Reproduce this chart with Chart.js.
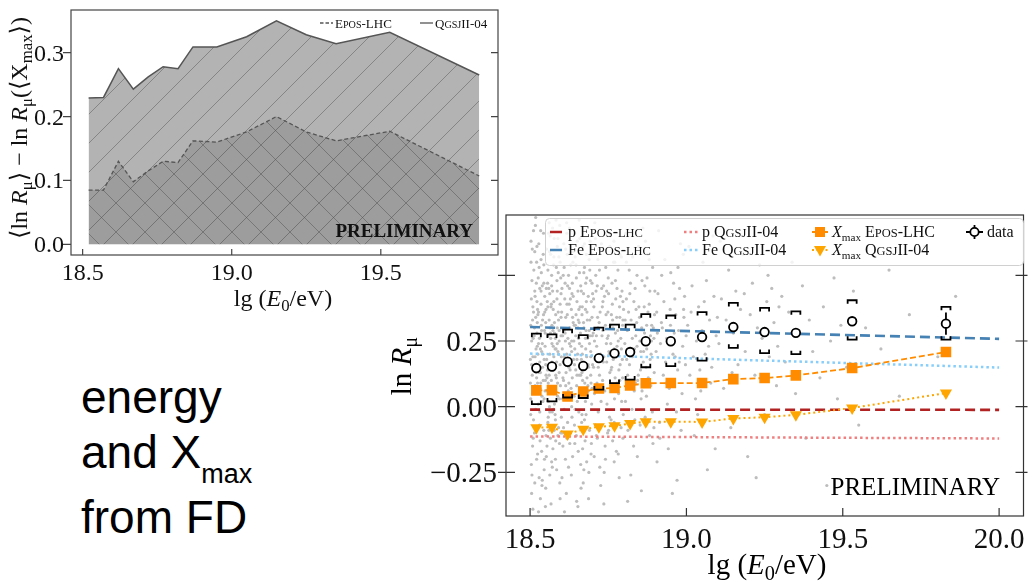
<!DOCTYPE html>
<html>
<head>
<meta charset="utf-8">
<script src="https://cdn.jsdelivr.net/npm/chart.js@4.4.0/dist/chart.umd.min.js"></script>
<style>
html, body { margin: 0; padding: 0; background: #fff; }
body { width: 1031px; height: 588px; position: relative; overflow: hidden; }
#lnrBox { position: absolute; left: 380px; top: 200px; }
#diffBox { position: absolute; left: 0; top: 0; }
.caption { position: absolute; left: 81px; font-family: "Liberation Sans", Arial, sans-serif; font-size: 46px; line-height: 46px; color: #000; white-space: nowrap; }
.caption .sub { font-size: 27px; position: relative; top: 15px; }
</style>
</head>
<body>
<div id="lnrBox"><canvas id="lnrChart" width="651" height="388"></canvas></div>
<div id="diffBox"><canvas id="diffChart" width="505" height="320"></canvas></div>
<div class="caption" style="top:374px">energy</div>
<div class="caption" style="top:429px">and X<span class="sub">max</span></div>
<div class="caption" style="top:494px">from FD</div>
<script>
// energy bins (lg E0/eV)
const binLg = [18.52, 18.57, 18.62, 18.67, 18.72, 18.77, 18.82, 18.87, 18.95, 19.05, 19.15, 19.25, 19.35, 19.53, 19.83];

// mean ln R_mu per bin with statistical and systematic band
const dataLnR = [0.147, 0.153, 0.171, 0.155, 0.185, 0.203, 0.208, 0.249, 0.249, 0.265, 0.303, 0.284, 0.281, 0.325, 0.316];
const statErr = [0.010, 0.010, 0.011, 0.011, 0.012, 0.012, 0.013, 0.013, 0.013, 0.014, 0.015, 0.015, 0.016, 0.016, 0.042];
const sysUp = [0.278, 0.275, 0.293, 0.272, 0.301, 0.312, 0.312, 0.352, 0.347, 0.360, 0.395, 0.376, 0.363, 0.405, 0.380];
const sysLow = [0.010, 0.020, 0.035, 0.033, 0.065, 0.090, 0.103, 0.150, 0.154, 0.175, 0.224, 0.204, 0.200, 0.255, 0.255];

// ln R_mu expected from Xmax
const xmaxEpos = [0.062, 0.063, 0.039, 0.058, 0.069, 0.071, 0.081, 0.089, 0.090, 0.090, 0.105, 0.109, 0.119, 0.147, 0.208];
const xmaxQgsj = [-0.080, -0.078, -0.104, -0.086, -0.076, -0.073, -0.064, -0.057, -0.057, -0.058, -0.045, -0.040, -0.031, -0.005, 0.052];

// proton / iron expectations
const modelLg = [18.5, 20.0];
const pEpos = [-0.011, -0.012];
const feEpos = [0.303, 0.258];
const pQgsj = [-0.113, -0.121];
const feQgsj = [0.202, 0.149];

// muon deficit <ln R_mu> - ln R_mu(<Xmax>)
const diffEpos = [0.085, 0.085, 0.130, 0.098, 0.115, 0.130, 0.128, 0.162, 0.160, 0.176, 0.200, 0.176, 0.162, 0.177, 0.107];
const diffQgsj = [0.229, 0.230, 0.275, 0.243, 0.262, 0.278, 0.275, 0.309, 0.309, 0.325, 0.350, 0.328, 0.314, 0.332, 0.265];

// tick labels
const lnrXTicks = [18.5, 19.0, 19.5, 20.0];
const lnrXLabels = ['18.5', '19.0', '19.5', '20.0'];
const lnrYTicks = [-0.25, 0, 0.25, 0.5];
const lnrYLabels = ['\u22120.25', '0.00', '0.25', ''];
const diffXTicks = [18.5, 19.0, 19.5];
const diffXLabels = ['18.5', '19.0', '19.5'];
const diffYTicks = [0, 0.1, 0.2, 0.3];
const diffYLabels = ['0.0', '0.1', '0.2', '0.3'];

// single events [lg E, ln R_mu]
const events = [
[18.502,0.31],[18.507,0.12],[18.511,-0.05],[18.515,0.44],[18.503,0.63],[18.519,0.22],[18.524,-0.18],[18.508,0.05],[18.527,0.36],[18.531,0.17],
[18.505,-0.33],[18.536,0.51],[18.513,0.27],[18.541,0.02],[18.546,0.29],[18.517,0.69],[18.551,-0.11],[18.522,0.40],[18.556,0.14],[18.529,-0.27],
[18.561,0.33],[18.534,0.09],[18.566,0.58],[18.539,0.24],[18.571,-0.02],[18.544,0.47],[18.576,0.19],[18.549,-0.38],[18.581,0.26],[18.554,0.11],
[18.586,0.41],[18.559,0.66],[18.591,-0.08],[18.564,0.30],[18.596,0.16],[18.569,-0.21],[18.574,0.37],[18.579,0.07],[18.584,0.53],[18.589,0.21],
[18.594,-0.14],[18.599,0.34],[18.501,0.18],[18.509,0.38],[18.514,-0.10],[18.521,0.55],[18.526,0.01],[18.533,0.13],[18.538,-0.30],[18.543,0.35],
[18.548,0.23],[18.553,0.60],[18.558,-0.04],[18.563,0.43],[18.568,0.10],[18.573,-0.16],[18.578,0.28],[18.583,0.71],[18.588,0.04],[18.593,0.25],
[18.598,0.49],[18.504,-0.22],[18.510,0.26],[18.516,0.08],[18.520,0.47],[18.525,0.20],[18.530,-0.07],[18.535,0.39],[18.540,0.15],[18.545,-0.24],
[18.550,0.32],[18.555,0.06],[18.560,0.45],[18.565,-0.12],[18.570,0.24],[18.575,0.54],[18.580,-0.03],[18.585,0.17],[18.590,0.36],[18.595,-0.29],
[18.506,0.48],[18.512,0.15],[18.518,-0.01],[18.523,0.32],[18.528,0.62],[18.532,-0.13],[18.537,0.21],[18.542,0.10],[18.547,0.42],[18.552,-0.19],
[18.557,0.27],[18.562,0.00],[18.567,0.38],[18.572,0.68],[18.577,-0.09],[18.582,0.12],[18.587,0.30],[18.592,0.57],[18.597,0.08],[18.502,0.03],
[18.508,-0.15],[18.515,0.59],[18.521,0.11],[18.527,0.24],[18.533,-0.35],[18.539,0.46],[18.545,0.18],[18.551,0.37],[18.557,-0.06],[18.563,0.20],
[18.569,0.50],[18.575,0.05],[18.581,-0.20],[18.587,0.44],[18.593,0.13],[18.599,0.27],[18.505,0.25],[18.518,0.34],[18.531,0.45],[18.544,-0.09],
[18.557,0.52],[18.570,0.31],[18.583,0.22],[18.596,0.39],[18.511,0.67],[18.524,0.09],[18.537,0.29],[18.550,0.16],[18.563,-0.26],[18.576,0.40],
[18.589,-0.11],[18.509,-0.39],[18.522,0.28],[18.535,0.56],[18.548,0.06],[18.561,0.12],[18.574,0.23],[18.587,0.61],[18.600,-0.04],[18.516,0.19],
[18.501,0.09],[18.504,0.41],[18.506,-0.26],[18.509,0.19],[18.512,0.52],[18.514,0.30],[18.517,-0.08],[18.519,0.13],[18.522,0.61],[18.525,0.35],
[18.527,-0.40],[18.530,0.26],[18.532,0.07],[18.535,0.44],[18.537,-0.17],[18.540,0.33],[18.543,0.66],[18.545,0.03],[18.548,0.28],[18.550,-0.31],
[18.553,0.18],[18.556,0.47],[18.558,0.09],[18.561,0.70],[18.563,-0.02],[18.566,0.26],[18.568,0.39],[18.571,-0.23],[18.573,0.14],[18.576,0.57],
[18.578,0.32],[18.581,-0.05],[18.584,0.11],[18.586,0.48],[18.589,0.64],[18.591,0.20],[18.594,0.03],[18.596,-0.35],[18.599,0.43],[18.503,0.55],
[18.505,0.16],[18.508,0.33],[18.510,-0.12],[18.513,0.06],[18.516,0.42],[18.518,0.72],[18.521,-0.20],[18.523,0.23],[18.526,0.49],[18.528,0.13],
[18.531,-0.02],[18.534,0.67],[18.536,0.31],[18.539,-0.28],[18.541,0.20],[18.544,0.54],[18.547,0.36],[18.549,0.10],[18.552,0.45],[18.554,-0.15],
[18.557,0.38],[18.559,0.02],[18.562,0.59],[18.565,0.28],[18.567,-0.37],[18.570,0.17],[18.572,0.44],[18.575,-0.01],[18.577,0.64],[18.580,0.22],
[18.582,0.35],[18.585,-0.24],[18.588,0.09],[18.590,0.51],[18.593,0.29],[18.595,0.69],[18.598,-0.10],[18.600,0.19],[18.502,-0.03],[18.511,0.36],
[18.520,0.16],[18.529,0.53],[18.538,0.04],[18.546,-0.20],[18.555,0.40],[18.564,0.65],[18.573,0.29],[18.582,-0.13],[18.591,0.33],[18.507,0.60],
[18.515,-0.29],[18.524,0.37],[18.533,0.22],[18.542,0.58],[18.551,0.12],[18.560,-0.09],[18.569,0.46],[18.578,0.01],[18.587,0.24],[18.596,0.55],
[18.603,0.22],[18.607,-0.08],[18.611,0.41],[18.615,0.13],[18.619,0.58],[18.623,-0.23],[18.627,0.30],[18.631,0.07],[18.635,0.47],[18.639,0.18],
[18.643,-0.14],[18.647,0.35],[18.651,0.02],[18.655,0.26],[18.659,0.64],[18.663,-0.31],[18.667,0.20],[18.671,0.43],[18.675,0.09],[18.679,-0.03],
[18.683,0.33],[18.687,0.15],[18.691,0.52],[18.695,-0.18],[18.699,0.27],[18.601,0.36],[18.605,0.11],[18.609,-0.01],[18.613,0.25],[18.617,0.70],
[18.621,0.16],[18.625,0.39],[18.629,-0.10],[18.633,0.21],[18.637,0.55],[18.641,0.04],[18.645,0.31],[18.649,-0.36],[18.653,0.44],[18.657,0.12],
[18.661,0.28],[18.665,-0.06],[18.669,0.61],[18.673,0.17],[18.677,0.37],[18.681,-0.21],[18.685,0.08],[18.689,0.29],[18.693,0.48],[18.697,0.01],
[18.602,-0.27],[18.606,0.50],[18.610,0.19],[18.614,0.34],[18.618,-0.12],[18.622,0.06],[18.626,0.45],[18.630,0.23],[18.634,-0.04],[18.638,0.32],
[18.642,0.66],[18.646,0.14],[18.650,0.40],[18.654,-0.17],[18.658,0.24],[18.662,0.05],[18.666,0.35],[18.670,-0.29],[18.674,0.53],[18.678,0.22],
[18.682,0.11],[18.686,0.42],[18.690,-0.09],[18.694,0.19],[18.698,0.34],[18.604,0.03],[18.612,0.28],[18.620,0.46],[18.628,0.14],[18.636,-0.19],
[18.644,0.57],[18.652,0.20],[18.660,0.38],[18.668,0.10],[18.676,-0.13],[18.684,0.26],[18.692,0.63],[18.700,0.16],[18.608,0.62],[18.616,-0.33],
[18.624,0.09],[18.632,0.37],[18.640,0.25],[18.648,0.49],[18.656,-0.02],[18.664,0.18],[18.672,0.30],[18.680,0.58],[18.688,-0.25],[18.696,0.40],
[18.606,0.17],[18.618,0.39],[18.630,0.54],[18.642,-0.07],[18.654,0.33],[18.666,0.13],[18.678,0.47],[18.690,0.24],[18.610,-0.40],[18.626,0.68],
[18.646,0.27],[18.662,-0.22],[18.682,0.36],[18.698,0.07],[18.614,0.08],[18.634,0.43],[18.658,0.51],[18.674,-0.05],[18.694,0.21],[18.650,0.12],
[18.602,0.45],[18.605,-0.15],[18.608,0.29],[18.611,0.05],[18.614,0.60],[18.617,0.20],[18.620,-0.06],[18.623,0.50],[18.626,0.24],[18.629,0.67],
[18.632,-0.26],[18.635,0.11],[18.638,0.42],[18.641,0.31],[18.644,-0.01],[18.647,0.54],[18.650,0.18],[18.653,-0.38],[18.656,0.37],[18.659,0.07],
[18.662,0.46],[18.665,0.23],[18.668,-0.16],[18.671,0.32],[18.674,0.62],[18.677,0.02],[18.680,0.40],[18.683,-0.08],[18.686,0.16],[18.689,0.56],
[18.692,0.27],[18.695,0.09],[18.698,0.47],[18.604,0.27],[18.609,0.53],[18.613,-0.20],[18.619,0.35],[18.624,0.15],[18.629,0.41],[18.633,0.00],
[18.638,0.59],[18.643,0.22],[18.648,-0.11],[18.653,0.30],[18.657,0.71],[18.662,0.12],[18.667,0.38],[18.672,-0.24],[18.677,0.26],[18.681,0.49],
[18.686,0.06],[18.691,0.33],[18.696,-0.14],[18.700,0.43],[18.607,0.10],[18.621,0.26],[18.636,0.34],[18.651,0.63],[18.666,-0.03],[18.681,0.19],
[18.697,0.58],[18.612,0.47],[18.627,-0.14],[18.642,0.16],[18.657,0.32],[18.672,0.51],[18.687,-0.35],[18.603,-0.10],[18.618,0.66],[18.633,0.25],
[18.649,0.08],[18.664,0.44],[18.679,0.29],[18.694,0.12],
[18.702,0.28],[18.706,0.05],[18.711,0.44],[18.715,-0.12],[18.719,0.19],[18.724,0.36],[18.728,0.62],[18.732,0.10],[18.737,-0.25],[18.741,0.31],
[18.745,0.17],[18.750,0.49],[18.754,-0.04],[18.758,0.24],[18.763,0.39],[18.767,0.08],[18.771,0.55],[18.776,-0.17],[18.780,0.29],[18.784,0.14],
[18.789,0.42],[18.793,0.02],[18.797,0.33],[18.704,0.38],[18.709,-0.07],[18.713,0.23],[18.717,0.56],[18.722,0.12],[18.726,-0.30],[18.730,0.27],
[18.735,0.46],[18.739,0.06],[18.743,0.35],[18.748,-0.10],[18.752,0.21],[18.756,0.65],[18.761,0.15],[18.765,0.30],[18.769,-0.21],[18.774,0.41],
[18.778,0.09],[18.782,0.25],[18.787,0.58],[18.791,-0.08],[18.795,0.18],[18.799,0.37],[18.703,0.15],[18.710,0.50],[18.718,-0.02],[18.725,0.20],
[18.733,0.40],[18.740,-0.15],[18.747,0.26],[18.755,0.13],[18.762,0.47],[18.770,0.03],[18.777,0.34],[18.785,-0.27],[18.792,0.22],[18.707,0.70],
[18.721,0.32],[18.736,-0.37],[18.751,0.43],[18.766,0.18],[18.781,0.52],[18.796,0.11],[18.714,0.09],[18.729,0.45],[18.744,0.24],[18.759,-0.05],
[18.773,0.28],[18.788,0.16],[18.705,-0.19],[18.720,0.60],[18.734,0.17],[18.749,0.36],[18.764,-0.13],[18.779,0.21],[18.794,0.44],[18.712,0.27],
[18.727,0.07],[18.742,0.53],[18.757,0.31],[18.772,0.11],[18.786,0.38],[18.798,-0.03],[18.716,0.34],[18.746,0.01],[18.768,0.63],[18.790,0.26],
[18.703,0.41],[18.708,0.18],[18.712,-0.11],[18.717,0.30],[18.722,0.52],[18.727,0.02],[18.731,0.38],[18.736,0.19],[18.741,-0.20],[18.745,0.44],
[18.750,0.27],[18.755,0.61],[18.759,0.14],[18.764,0.33],[18.769,-0.06],[18.773,0.48],[18.778,0.23],[18.783,0.05],[18.787,0.34],[18.792,0.57],
[18.797,-0.12],[18.706,0.25],[18.715,0.46],[18.724,0.08],[18.733,0.29],[18.742,0.66],[18.751,-0.09],[18.760,0.35],[18.769,0.22],[18.778,0.45],
[18.787,0.10],[18.796,0.31],[18.709,0.64],[18.723,-0.23],[18.738,0.42],[18.753,0.20],[18.767,0.55],[18.782,-0.18],[18.797,0.40],[18.718,0.15],
[18.803,0.24],[18.808,0.41],[18.813,-0.09],[18.818,0.16],[18.823,0.33],[18.828,0.57],[18.833,0.06],[18.838,0.27],[18.843,-0.19],[18.848,0.38],
[18.853,0.14],[18.858,0.48],[18.863,0.21],[18.868,-0.04],[18.873,0.31],[18.878,0.11],[18.883,0.44],[18.888,0.25],[18.893,-0.14],[18.898,0.35],
[18.805,0.02],[18.811,0.29],[18.817,0.52],[18.822,-0.26],[18.827,0.19],[18.832,0.40],[18.837,0.09],[18.842,0.23],[18.847,0.61],[18.852,-0.07],
[18.857,0.30],[18.862,0.17],[18.867,0.46],[18.872,0.04],[18.877,0.36],[18.882,-0.11],[18.887,0.20],[18.892,0.53],[18.897,0.13],[18.806,0.66],
[18.815,0.36],[18.826,-0.01],[18.836,0.45],[18.846,0.12],[18.856,-0.32],[18.866,0.28],[18.876,0.58],[18.886,0.08],[18.896,0.26],[18.809,0.18],
[18.821,0.47],[18.831,-0.15],[18.841,0.32],[18.851,0.25],[18.861,0.68],[18.871,0.15],[18.881,0.39],[18.891,-0.02],[18.812,-0.36],[18.834,0.22],
[18.855,0.03],[18.874,0.49],[18.894,0.30],[18.844,0.10],[18.884,0.18],
[18.804,0.33],[18.812,0.12],[18.819,0.43],[18.827,0.26],[18.835,-0.05],[18.842,0.50],[18.850,0.34],[18.858,0.06],[18.865,0.38],[18.873,0.22],
[18.881,0.56],[18.889,0.31],[18.896,-0.08],[18.808,0.55],[18.824,0.08],[18.839,0.37],[18.854,0.21],[18.869,0.63],[18.885,0.27],[18.899,0.44],
[18.903,0.21],[18.909,0.43],[18.914,-0.06],[18.920,0.32],[18.926,0.12],[18.931,0.56],[18.937,0.26],[18.942,-0.16],[18.948,0.37],[18.953,0.09],
[18.959,0.47],[18.964,0.19],[18.970,-0.28],[18.975,0.29],[18.981,0.62],[18.986,0.05],[18.992,0.34],[18.997,0.16],[18.906,-0.21],[18.917,0.24],
[18.928,0.40],[18.939,0.01],[18.950,0.51],[18.961,0.28],[18.972,0.14],[18.983,-0.09],[18.994,0.42],[18.911,0.67],[18.933,0.17],[18.955,-0.33],
[18.966,0.35],[18.988,0.23],[18.923,0.30],[18.945,0.07],[18.978,0.45],[18.999,0.27],[18.905,0.36],[18.957,0.20],[18.968,-0.02],[18.990,0.58],
[18.907,0.28],[18.921,0.50],[18.935,0.09],[18.949,0.31],[18.963,0.41],[18.977,0.17],[18.991,0.37],[18.915,-0.12],[18.944,0.24],[18.973,0.53],
[19.004,0.31],[19.011,0.12],[19.018,0.46],[19.025,-0.11],[19.032,0.25],[19.039,0.38],[19.046,0.06],[19.053,0.55],[19.060,0.20],[19.067,-0.24],
[19.074,0.33],[19.081,0.15],[19.088,0.42],[19.095,0.27],[19.008,0.61],[19.022,0.19],[19.036,-0.03],[19.050,0.29],[19.064,0.48],[19.078,0.09],
[19.092,-0.16],[19.015,0.36],[19.043,0.14],[19.057,0.40],[19.071,0.23],[19.085,0.65],[19.029,0.03],[19.099,0.34],
[19.104,0.24],[19.112,0.41],[19.119,0.07],[19.127,0.33],[19.135,0.52],[19.142,-0.08],[19.150,0.28],[19.158,0.44],[19.165,0.16],[19.173,0.37],
[19.181,0.58],[19.188,0.21],[19.196,-0.19],[19.204,0.35],[19.211,0.47],[19.219,0.12],[19.227,0.30],[19.234,0.54],[19.242,0.26],[19.250,-0.03],
[19.257,0.40],[19.265,0.19],[19.273,0.45],[19.280,0.32],[19.288,0.08],[19.296,0.38],[19.108,0.63],[19.146,0.13],[19.185,0.43],[19.223,-0.27],
[19.261,0.50],[19.292,0.23],
[19.305,0.42],[19.316,0.17],[19.327,0.36],[19.338,0.55],[19.349,0.05],[19.360,0.29],[19.371,0.46],[19.382,-0.12],[19.393,0.33],[19.404,0.21],
[19.416,0.60],[19.427,0.11],[19.438,0.38],[19.449,-0.30],[19.461,0.25],[19.472,0.49],[19.483,0.03],[19.494,0.31],
[19.512,0.15],[19.534,0.44],[19.551,-0.07],[19.573,0.30],[19.598,0.67],[19.622,0.22],[19.648,0.52],[19.681,0.04],[19.713,0.35],[19.762,0.61],
[19.804,0.19],[19.861,0.42]
];

const SERIF = '"Liberation Serif", "DejaVu Serif", serif';

// mixed text: [text, kind]; '' plain, 'i' italic, 's' subscript, 'k' small caps
function partFont(kind, size) {
  if (kind === 'i') return 'italic ' + size + 'px ' + SERIF;
  if (kind === 's') return (size * 0.7) + 'px ' + SERIF;
  if (kind === 'k') return (size * 0.78) + 'px ' + SERIF;
  return size + 'px ' + SERIF;
}
function drawRich(ctx, parts, x, y, size, align) {
  ctx.save();
  ctx.textBaseline = 'alphabetic';
  ctx.textAlign = 'left';
  let w = 0;
  parts.forEach(([t, k]) => {
    ctx.font = partFont(k, size);
    w += ctx.measureText(k === 'k' ? t.toUpperCase() : t).width;
  });
  let cx = align === 'center' ? x - w / 2 : align === 'right' ? x - w : x;
  parts.forEach(([t, k]) => {
    const s = k === 'k' ? t.toUpperCase() : t;
    ctx.font = partFont(k, size);
    ctx.fillText(s, cx, k === 's' ? y + size * 0.22 : y);
    cx += ctx.measureText(s).width;
  });
  ctx.restore();
}
function sc(str) {
  const out = [];
  for (const ch of str) {
    const k = ch >= 'a' && ch <= 'z' ? 'k' : '';
    if (out.length && out[out.length - 1][1] === k) out[out.length - 1][0] += ch;
    else out.push([ch, k]);
  }
  return out;
}
function drawRotated(ctx, parts, x, y, size) {
  ctx.save();
  ctx.translate(x, y);
  ctx.rotate(-Math.PI / 2);
  drawRich(ctx, parts, 0, 0, size, 'center');
  ctx.restore();
}

// box, tick marks and tick labels
function drawFrame(chart, o) {
  const ctx = chart.ctx, a = chart.chartArea, xs = chart.scales.x, ys = chart.scales.y;
  ctx.save();
  ctx.strokeStyle = o.color;
  ctx.lineWidth = 1.2;
  ctx.strokeRect(a.left, a.top, a.right - a.left, a.bottom - a.top);
  ctx.beginPath();
  o.yTicks.forEach(v => {
    const py = ys.getPixelForValue(v);
    ctx.moveTo(a.left - o.leftOut, py); ctx.lineTo(a.left + o.leftIn, py);
    ctx.moveTo(a.right - o.rightIn, py); ctx.lineTo(a.right + o.rightOut, py);
  });
  o.xTicks.forEach(v => {
    const px = xs.getPixelForValue(v);
    ctx.moveTo(px, a.bottom); ctx.lineTo(px, a.bottom - o.bottomIn);
  });
  ctx.stroke();
  ctx.fillStyle = '#111';
  ctx.font = o.size + 'px ' + SERIF;
  ctx.textBaseline = 'alphabetic';
  ctx.textAlign = 'center';
  o.xTicks.forEach((v, i) => ctx.fillText(o.xLabels[i], xs.getPixelForValue(v), a.bottom + o.xLabelDy));
  ctx.textAlign = 'right';
  o.yTicks.forEach((v, i) => {
    if (o.yLabels[i]) ctx.fillText(o.yLabels[i], a.left - o.yLabelDx, ys.getPixelForValue(v) + o.yLabelDy);
  });
  ctx.restore();
}

function hatch(ctx, bg, line, dirs, step) {
  const c = document.createElement('canvas');
  c.width = c.height = step;
  const g = c.getContext('2d');
  g.fillStyle = bg;
  g.fillRect(0, 0, step, step);
  g.strokeStyle = line;
  g.lineWidth = 1;
  g.beginPath();
  if (dirs.includes('/')) {
    g.moveTo(-1, step + 1); g.lineTo(step + 1, -1);
    g.moveTo(-2, 2); g.lineTo(2, -2);
    g.moveTo(step - 2, step + 2); g.lineTo(step + 2, step - 2);
  }
  if (dirs.includes('\\')) {
    g.moveTo(-1, -1); g.lineTo(step + 1, step + 1);
    g.moveTo(step - 2, -2); g.lineTo(step + 2, 2);
    g.moveTo(-2, step - 2); g.lineTo(2, step + 2);
  }
  g.stroke();
  return ctx.createPattern(c, 'repeat');
}

const pts = (xs, ys) => xs.map((x, i) => ({ x: x, y: ys[i] }));

// ---------- ln R_mu vs energy ----------
const lnrCtx = document.getElementById('lnrChart').getContext('2d');

const lnrDecor = {
  id: 'lnrDecor',
  beforeDatasetDraw(chart, args) {
    if (chart.data.datasets[args.index].label !== 'data') return;
    const ctx = chart.ctx, xs = chart.scales.x, ys = chart.scales.y;
    ctx.save();
    ctx.strokeStyle = '#000';
    ctx.lineWidth = 1.8;
    binLg.forEach((lg, i) => {
      const px = xs.getPixelForValue(lg);
      const hi = ys.getPixelForValue(sysUp[i]), lo = ys.getPixelForValue(sysLow[i]);
      ctx.beginPath();
      ctx.moveTo(px - 4.5, hi + 3.5); ctx.lineTo(px - 4.5, hi); ctx.lineTo(px + 4.5, hi); ctx.lineTo(px + 4.5, hi + 3.5);
      ctx.moveTo(px - 4.5, lo - 3.5); ctx.lineTo(px - 4.5, lo); ctx.lineTo(px + 4.5, lo); ctx.lineTo(px + 4.5, lo - 3.5);
      ctx.moveTo(px, ys.getPixelForValue(dataLnR[i] + statErr[i]));
      ctx.lineTo(px, ys.getPixelForValue(dataLnR[i] - statErr[i]));
      ctx.stroke();
    });
    ctx.restore();
  },
  afterDraw(chart) {
    const ctx = chart.ctx;
    drawFrame(chart, {
      color: '#333', xTicks: lnrXTicks, xLabels: lnrXLabels, yTicks: lnrYTicks, yLabels: lnrYLabels,
      leftOut: 8, leftIn: 9, rightIn: 8, rightOut: 4, bottomIn: 8,
      size: 29, xLabelDy: 32, yLabelDx: 9, yLabelDy: 10
    });
    ctx.save();
    ctx.fillStyle = '#000';
    drawRich(ctx, [['lg (', ''], ['E', 'i'], ['0', 's'], ['/eV)', '']], 387, 374, 29, 'center');
    drawRotated(ctx, [['ln ', ''], ['R', 'i'], ['\u03bc', 's']], 31, 166, 29);
    ctx.font = '25px ' + SERIF;
    ctx.textAlign = 'right';
    ctx.fillText('PRELIMINARY', 620, 295);

    // legend
    ctx.beginPath();
    ctx.fillStyle = 'rgba(255,255,255,0.8)';
    ctx.strokeStyle = '#d0d0d0';
    ctx.lineWidth = 1;
    ctx.roundRect(165.5, 18.5, 478, 47, 4);
    ctx.fill();
    ctx.stroke();
    const seg = (x1, x2, y, color, dash, w) => {
      ctx.save();
      ctx.strokeStyle = color; ctx.lineWidth = w; ctx.setLineDash(dash);
      ctx.beginPath(); ctx.moveTo(x1, y); ctx.lineTo(x2, y); ctx.stroke();
      ctx.restore();
    };
    seg(170, 182, 32, '#b22222', [], 2.5);
    seg(170, 182, 50, '#4682b4', [], 2.5);
    seg(304, 319, 32, '#f08080', [2.5, 3], 2.5);
    seg(304, 319, 50, '#87cefa', [2.5, 3], 2.5);
    seg(432, 448, 32, '#ff8c00', [], 2);
    seg(432, 448, 50, '#ffa500', [2, 2.5], 2);
    ctx.fillStyle = '#ff8c00';
    ctx.fillRect(435, 27, 10, 10);
    ctx.fillStyle = '#ffa500';
    ctx.beginPath(); ctx.moveTo(434, 46); ctx.lineTo(446, 46); ctx.lineTo(440, 56.5); ctx.closePath(); ctx.fill();
    ctx.strokeStyle = '#000'; ctx.lineWidth = 1.8;
    ctx.beginPath(); ctx.moveTo(586, 32); ctx.lineTo(603, 32); ctx.moveTo(594.5, 25); ctx.lineTo(594.5, 39); ctx.stroke();
    ctx.fillStyle = '#fff';
    ctx.beginPath(); ctx.arc(594.5, 32, 4.2, 0, Math.PI * 2); ctx.fill(); ctx.stroke();
    ctx.fillStyle = '#111';
    drawRich(ctx, [['p ', '']].concat(sc('Epos-lhc')), 188, 37, 16, 'left');
    drawRich(ctx, [['Fe ', '']].concat(sc('Epos-lhc')), 188, 55, 16, 'left');
    drawRich(ctx, [['p ', '']].concat(sc('QgsjII-04')), 322, 37, 16, 'left');
    drawRich(ctx, [['Fe ', '']].concat(sc('QgsjII-04')), 322, 55, 16, 'left');
    drawRich(ctx, [['X', 'i'], ['max', 's'], [' ', '']].concat(sc('Epos-LHC')), 452, 37, 16, 'left');
    drawRich(ctx, [['X', 'i'], ['max', 's'], [' ', '']].concat(sc('QgsjII-04')), 452, 55, 16, 'left');
    drawRich(ctx, [['data', '']], 607, 37, 16, 'left');
    ctx.restore();
  }
};

new Chart(lnrCtx, {
  type: 'scatter',
  data: {
    datasets: [
      { label: 'data', data: pts(binLg, dataLnR), pointStyle: 'circle', pointRadius: 4.3,
        pointBackgroundColor: '#fff', pointBorderColor: '#000', pointBorderWidth: 1.8, order: 0 },
      { label: 'Xmax EPOS-LHC', data: pts(binLg, xmaxEpos), showLine: true, borderColor: '#ff8c00',
        borderDash: [6, 3], borderWidth: 1.8, pointStyle: 'rect', pointRadius: 7.5,
        pointBackgroundColor: '#ff8c00', pointBorderWidth: 0, order: 1 },
      { label: 'Xmax QGSJII-04', data: pts(binLg, xmaxQgsj), showLine: true, borderColor: '#ffa500',
        borderDash: [2, 3], borderWidth: 2, pointStyle: 'triangle', rotation: 180, pointRadius: 7,
        pointBackgroundColor: '#ffa500', pointBorderWidth: 0, order: 1 },
      { label: 'p EPOS-LHC', data: pts(modelLg, pEpos), showLine: true, borderColor: '#b22222',
        borderDash: [10, 5], borderWidth: 2.6, pointRadius: 0, order: 2 },
      { label: 'Fe EPOS-LHC', data: pts(modelLg, feEpos), showLine: true, borderColor: '#4682b4',
        borderDash: [10, 5], borderWidth: 2.6, pointRadius: 0, order: 2 },
      { label: 'p QGSJII-04', data: pts(modelLg, pQgsj), showLine: true, borderColor: '#f08080',
        borderDash: [2.5, 3], borderWidth: 2.5, pointRadius: 0, order: 2 },
      { label: 'Fe QGSJII-04', data: pts(modelLg, feQgsj), showLine: true, borderColor: '#87cefa',
        borderDash: [2.5, 3], borderWidth: 2.5, pointRadius: 0, order: 2 },
      { label: 'events', data: events.map(e => ({ x: e[0], y: e[1] })), pointRadius: 1.6,
        pointBackgroundColor: '#bdbdbd', pointBorderWidth: 0, order: 3 }
    ]
  },
  options: {
    responsive: false,
    animation: false,
    events: [],
    layout: { padding: { top: 15, right: 3, left: 0, bottom: 0 } },
    plugins: { legend: { display: false }, tooltip: { enabled: false } },
    scales: {
      x: { type: 'linear', min: 18.423, max: 20.078, grid: { display: false }, border: { display: false },
           ticks: { display: false }, afterFit(s) { s.height = 72; } },
      y: { type: 'linear', min: -0.416, max: 0.7295, grid: { display: false }, border: { display: false },
           ticks: { display: false }, afterFit(s) { s.width = 126; } }
    }
  },
  plugins: [lnrDecor]
});

// ---------- muon deficit ----------
const diffCtx = document.getElementById('diffChart').getContext('2d');
const qgsjFill = hatch(diffCtx, '#b3b3b3', 'rgba(95,95,95,0.55)', ['/'], 29);
const eposFill = hatch(diffCtx, 'rgba(0,0,0,0.12)', 'rgba(80,80,80,0.5)', ['\\'], 29);

const diffDecor = {
  id: 'diffDecor',
  afterDraw(chart) {
    const ctx = chart.ctx;
    drawFrame(chart, {
      color: '#444', xTicks: diffXTicks, xLabels: diffXLabels, yTicks: diffYTicks, yLabels: diffYLabels,
      leftOut: 8, leftIn: 0, rightIn: 7, rightOut: 0, bottomIn: 6,
      size: 24, xLabelDy: 25, yLabelDx: 7, yLabelDy: 8
    });
    ctx.save();
    ctx.fillStyle = '#111';
    drawRich(ctx, [['lg (', ''], ['E', 'i'], ['0', 's'], ['/eV)', '']], 283, 306, 24, 'center');
    drawRotated(ctx, [['\u27e8ln ', ''], ['R', 'i'], ['\u03bc', 's'], ['\u27e9 \u2212 ln ', ''], ['R', 'i'], ['\u03bc', 's'],
                      ['(\u27e8X', ''], ['max', 's'], ['\u27e9)', '']], 27, 128, 24);
    ctx.font = 'bold 19px ' + SERIF;
    ctx.textAlign = 'right';
    ctx.fillText('PRELIMINARY', 473, 237);
    // legend
    ctx.strokeStyle = '#555';
    ctx.lineWidth = 1.3;
    ctx.setLineDash([3.5, 2]);
    ctx.beginPath(); ctx.moveTo(320, 23); ctx.lineTo(333, 23); ctx.stroke();
    ctx.setLineDash([]);
    ctx.beginPath(); ctx.moveTo(420, 23); ctx.lineTo(433, 23); ctx.stroke();
    drawRich(ctx, sc('Epos-LHC'), 335, 28, 13, 'left');
    drawRich(ctx, sc('QgsjII-04'), 435, 28, 13, 'left');
    ctx.restore();
  }
};

new Chart(diffCtx, {
  type: 'line',
  data: {
    datasets: [
      { label: 'EPOS-LHC', data: pts(binLg, diffEpos), borderColor: '#555', borderWidth: 1.3,
        borderDash: [4, 2.5], backgroundColor: eposFill, fill: 'origin', pointRadius: 0, tension: 0 },
      { label: 'QGSJII-04', data: pts(binLg, diffQgsj), borderColor: '#555', borderWidth: 1.5,
        backgroundColor: qgsjFill, fill: 'origin', pointRadius: 0, tension: 0 }
    ]
  },
  options: {
    responsive: false,
    animation: false,
    events: [],
    layout: { padding: { top: 10, right: 7, left: 0, bottom: 0 } },
    plugins: { legend: { display: false }, tooltip: { enabled: false } },
    scales: {
      x: { type: 'linear', min: 18.461, max: 19.893, grid: { display: false }, border: { display: false },
           ticks: { display: false }, afterFit(s) { s.height = 65; } },
      y: { type: 'linear', min: -0.0167, max: 0.3668, grid: { display: false }, border: { display: false },
           ticks: { display: false }, afterFit(s) { s.width = 71; } }
    }
  },
  plugins: [diffDecor]
});
</script>
</body>
</html>
